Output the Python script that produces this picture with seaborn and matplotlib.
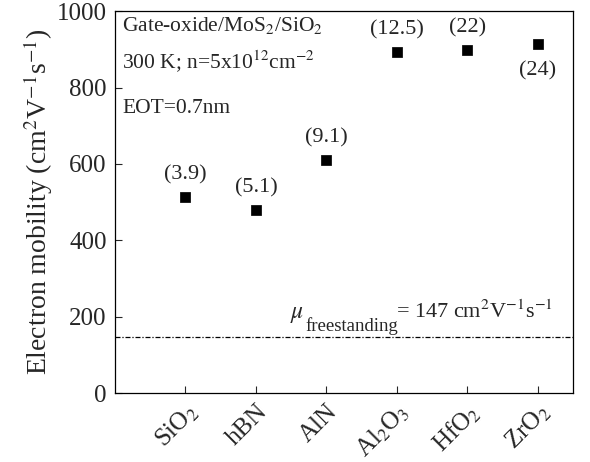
import matplotlib
matplotlib.use("Agg")
import matplotlib.pyplot as plt
import matplotlib.transforms as mtrans
import seaborn as sns
import pandas as pd

materials = ["SiO$_2$", "hBN", "AlN", "Al$_2$O$_3$", "HfO$_2$", "ZrO$_2$"]
mobility = [514, 479, 610, 892, 898, 915]
kappa_labels = ["(3.9)", "(5.1)", "(9.1)", "(12.5)", "(22)", "(24)"]
label_below = [False, False, False, False, False, True]
freestanding = 147
y_ticks = [0, 200, 400, 600, 800, 1000]

sns.set_theme(style="ticks")
plt.rcParams["font.family"] = ["Liberation Serif", "DejaVu Serif"]
plt.rcParams["mathtext.fontset"] = "stix"

positions = list(range(1, len(materials) + 1))
df = pd.DataFrame({"pos": positions, "mobility": mobility})

fig = plt.figure(figsize=(5.9, 4.62), dpi=100)
ax = fig.add_axes([0.195, 0.149, 0.776, 0.827])

sns.scatterplot(data=df, x="pos", y="mobility", marker="s", s=42, color="black",
                edgecolor="black", ax=ax, legend=False, zorder=3)

ax.axhline(freestanding, color="black", lw=0.9, ls=(0, (4, 1.5, 1, 1.5)))
ax.text(2.49, 206, r"$\mu$", fontsize=17, ha="left", va="center")
ax.text(2.70, 175, "freestanding", fontsize=13.5, ha="left", va="center")
ax.text(3.99, 212, "= 147 cm$^2$V$^{-1}$s$^{-1}$", fontsize=16, ha="left", va="center")

for p, v, lab, below in zip(positions, mobility, kappa_labels, label_below):
    ax.annotate(lab, (p, v), xytext=(0, -20 if below else 16), textcoords="offset points",
                ha="center", va="center", fontsize=16)

ax.text(0.1, 963, "Gate-oxide/MoS$_2$/SiO$_2$", fontsize=15.5, ha="left", va="center")
ax.text(0.1, 866, "300 K; n=5x10$^{12}$cm$^{-2}$", fontsize=15.5, ha="left", va="center")
ax.text(0.1, 746, "EOT=0.7nm", fontsize=15.5, ha="left", va="center")

ax.set_xlim(0, 6.5)
ax.set_ylim(0, 1000)
ax.set_yticks(y_ticks)
ax.set_xticks(positions)
ax.set_xticklabels(materials, rotation=45, ha="right", rotation_mode="anchor", fontsize=18)
offset = mtrans.ScaledTranslation(0.25, 0.0, fig.dpi_scale_trans)
for lbl in ax.get_xticklabels():
    lbl.set_transform(lbl.get_transform() + offset)
ax.tick_params(axis="y", labelsize=18, direction="in", length=5, width=0.8, pad=6)
ax.tick_params(axis="x", direction="in", length=5, width=0.8, pad=5)
ax.set_xlabel("")
ax.set_ylabel("Electron mobility (cm$^2$V$^{-1}$s$^{-1}$)", fontsize=20, labelpad=1)
for s in ax.spines.values():
    s.set_linewidth(0.9)
    s.set_color("black")

fig.savefig("out.png", dpi=100)
